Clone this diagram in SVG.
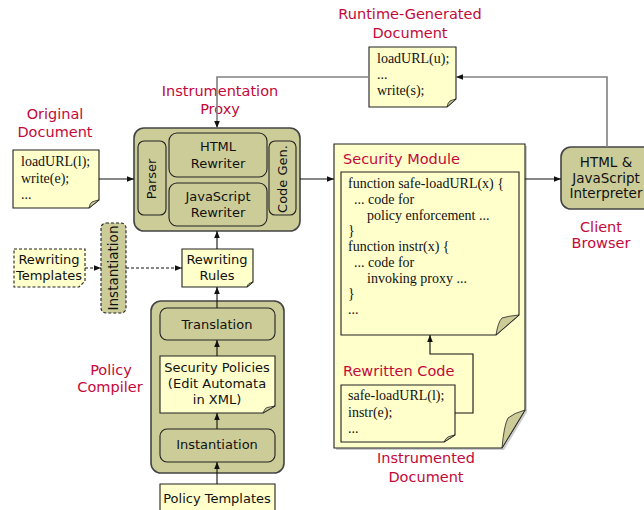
<svg xmlns="http://www.w3.org/2000/svg" width="644" height="510" viewBox="0 0 644 510">
  <style>
    .lbl { font-family: "DejaVu Sans", "Noto Sans", sans-serif; font-size: 14.5px; fill: #c4083a; text-anchor: middle; }
    .lbl-l { font-family: "DejaVu Sans", "Noto Sans", sans-serif; font-size: 14.5px; fill: #c4083a; }
    .box { font-family: "DejaVu Sans", "Noto Sans", sans-serif; font-size: 13px; fill: #111; text-anchor: middle; }
    .box-l { font-family: "DejaVu Sans", "Noto Sans", sans-serif; font-size: 13.5px; fill: #111; text-anchor: middle; }
    .code { font-family: "Liberation Serif", "Times New Roman", serif; font-size: 14px; fill: #111; }
    .olive { fill: #cccc99; stroke: #444; stroke-width: 1.6; }
    .inner { fill: #cccc99; stroke: #222; stroke-width: 1.1; }
    .note { fill: #ffffcc; stroke: #222; stroke-width: 1.1; }
    .fold { fill: #cccc99; stroke: #222; stroke-width: 0.8; }
    .dash { stroke-dasharray: 3 2; }
    .wire { fill: none; stroke: #111; stroke-width: 1.1; }
    .wire-g { fill: none; stroke: #808080; stroke-width: 1.6; }
  </style>
  <defs>
    <marker id="ah" viewBox="0 0 10 10" refX="10" refY="5" markerWidth="7" markerHeight="7" orient="auto" markerUnits="userSpaceOnUse">
      <path d="M0,1 L10,5 L0,9 Z" fill="#111"/>
    </marker>
  </defs>

  <rect width="644" height="510" fill="#ffffff"/>

  <!-- free-standing captions -->
  <g id="captions">
    <text class="lbl" x="410" y="19">Runtime-Generated</text>
    <text class="lbl" x="410" y="38">Document</text>
    <text class="lbl" x="220" y="96">Instrumentation</text>
    <text class="lbl" x="220" y="114">Proxy</text>
    <text class="lbl" x="55" y="119">Original</text>
    <text class="lbl" x="55" y="137">Document</text>
    <text class="lbl" x="601" y="232">Client</text>
    <text class="lbl" x="601" y="248">Browser</text>
    <text class="lbl" x="111" y="375">Policy</text>
    <text class="lbl" x="110" y="392">Compiler</text>
    <text class="lbl" x="426" y="463">Instrumented</text>
    <text class="lbl" x="426" y="482">Document</text>
  </g>

  <!-- runtime-generated document -->
  <g id="runtime-doc">
    <path class="note" d="M369,47 H456 V99 L447,107 H369 Z"/>
    <path class="fold" d="M456,99 L447,107 Q448,102 450,101 Q452,100 456,99 Z"/>
    <text class="code" x="377" y="63">loadURL(u);</text>
    <text class="code" x="377" y="79">...</text>
    <text class="code" x="377" y="95">write(s);</text>
  </g>

  <!-- original document -->
  <g id="original-doc">
    <path class="note" d="M13,150 H99 V200 L89,208 H13 Z"/>
    <path class="fold" d="M99,200 L89,208 Q90,203 92,202 Q94,201 99,200 Z"/>
    <text class="code" x="21" y="166">loadURL(l);</text>
    <text class="code" x="21" y="183">write(e);</text>
    <text class="code" x="21" y="199">...</text>
  </g>

  <!-- instrumentation proxy -->
  <g id="proxy">
    <rect class="olive" x="134" y="128" width="166" height="103" rx="10"/>
    <rect class="inner" x="138" y="141" width="28" height="74" rx="6"/>
    <text class="box" transform="translate(156,179) rotate(-90)">Parser</text>
    <rect class="inner" x="169" y="133" width="98" height="44" rx="8"/>
    <text class="box" x="218" y="151">HTML</text>
    <text class="box" x="218" y="168">Rewriter</text>
    <rect class="inner" x="169" y="183" width="98" height="43" rx="8"/>
    <text class="box" x="218" y="201">JavaScript</text>
    <text class="box" x="218" y="217">Rewriter</text>
    <rect class="inner" x="269" y="141" width="27" height="74" rx="6"/>
    <text class="box" transform="translate(287,179) rotate(-90)">Code Gen.</text>
  </g>

  <!-- rewriting templates -->
  <g id="rewriting-templates">
    <path class="note dash" d="M14,249 H85 V281 L79,287 H14 Z"/>
    <text class="box" x="49" y="264">Rewriting</text>
    <text class="box" x="49" y="280">Templates</text>
  </g>

  <!-- instantiation of rewriting templates -->
  <g id="template-instantiation">
    <rect class="inner dash" x="101" y="223" width="25" height="90" rx="5"/>
    <text class="box-l" transform="translate(118,268) rotate(-90)">Instantiation</text>
  </g>

  <!-- rewriting rules -->
  <g id="rewriting-rules">
    <path class="note" d="M182,249 H253 V282 L247,287 H182 Z"/>
    <path class="fold" d="M253,282 L247,287 Q248,284 249,283.5 Q250,283 253,282 Z"/>
    <text class="box" x="217" y="264">Rewriting</text>
    <text class="box" x="217" y="280">Rules</text>
  </g>

  <!-- policy compiler -->
  <g id="policy-compiler">
    <rect class="olive" x="151" y="301" width="133" height="172" rx="10"/>
    <rect class="inner" x="160" y="308" width="115" height="32" rx="7"/>
    <text class="box" x="217" y="329">Translation</text>
    <path class="note" d="M160,356 H275 V406 L263,413 H160 Z"/>
    <path class="fold" d="M275,406 L263,413 Q265,408 267,407.5 Q270,407 275,406 Z"/>
    <text class="box" x="217" y="372">Security Policies</text>
    <text class="box" x="217" y="388">(Edit Automata</text>
    <text class="box" x="217" y="404">in XML)</text>
    <rect class="inner" x="160" y="429" width="115" height="33" rx="7"/>
    <text class="box" x="217" y="449">Instantiation</text>
  </g>

  <!-- policy templates -->
  <g id="policy-templates">
    <path class="note" d="M160,484 H275 V520 H160 Z"/>
    <text class="box" x="217" y="503">Policy Templates</text>
  </g>

  <!-- instrumented document with security module and rewritten code -->
  <g id="instrumented-doc">
    <path d="M336,146 H527 V412 L504,450 H336 Z" fill="#999" opacity="0.5"/>
    <path class="note" d="M334,144 H525 V410 L502,448 H334 Z" stroke="#444" stroke-width="1.4"/>
    <path class="fold" d="M525,410 L502,448 Q504,425 508,418 Q514,413 525,410 Z"/>
    <text class="lbl-l" x="343" y="164">Security Module</text>
    <path class="note" d="M341,172 H519 V315 L496,335 H341 Z"/>
    <path class="fold" d="M519,315 L496,335 Q498,322 502,318 Q508,316 519,315 Z"/>
    <text class="code" x="348" y="188">function safe-loadURL(x) {</text>
    <text class="code" x="354" y="204">... code for</text>
    <text class="code" x="367" y="220">policy enforcement ...</text>
    <text class="code" x="348" y="235">}</text>
    <text class="code" x="348" y="251">function instr(x) {</text>
    <text class="code" x="354" y="267">... code for</text>
    <text class="code" x="367" y="283">invoking proxy ...</text>
    <text class="code" x="348" y="298">}</text>
    <text class="code" x="348" y="314">...</text>
    <text class="lbl-l" x="343" y="376">Rewritten Code</text>
    <path class="note" d="M341,385 H455 V435 L444,442 H341 Z"/>
    <path class="fold" d="M455,435 L444,442 Q446,438 448,437 Q450,436 455,435 Z"/>
    <text class="code" x="348" y="400">safe-loadURL(l);</text>
    <text class="code" x="348" y="417">instr(e);</text>
    <text class="code" x="348" y="433">...</text>
  </g>

  <!-- client browser interpreter -->
  <g id="interpreter">
    <rect class="olive" x="561" y="147" width="100" height="62" rx="10"/>
    <text class="box-l" x="606" y="167">HTML &amp;</text>
    <text class="box-l" x="606" y="183">JavaScript</text>
    <text class="box-l" x="606" y="198">Interpreter</text>
  </g>

  <!-- connectors -->
  <g id="connectors">
    <path class="wire" d="M99,179 H134" marker-end="url(#ah)"/>
    <path class="wire" d="M300,179 H334" marker-end="url(#ah)"/>
    <path class="wire" d="M525,179 H561" marker-end="url(#ah)"/>
    <path class="wire-g" d="M607,147 V77 H456" marker-end="url(#ah)"/>
    <path class="wire-g" d="M369,77 H217 V128" marker-end="url(#ah)"/>
    <path class="wire" d="M455,413 H473 V354 H430 V335" marker-end="url(#ah)"/>
    <path class="wire" d="M217,249 V231" marker-end="url(#ah)"/>
    <path class="wire" d="M217,308 V287" marker-end="url(#ah)"/>
    <path class="wire" d="M217,356 V340" marker-end="url(#ah)"/>
    <path class="wire" d="M217,429 V413" marker-end="url(#ah)"/>
    <path class="wire" d="M217,484 V462" marker-end="url(#ah)"/>
    <path class="wire dash" d="M85,268 H101" marker-end="url(#ah)"/>
    <path class="wire dash" d="M126,268 H182" marker-end="url(#ah)"/>
  </g>
</svg>
